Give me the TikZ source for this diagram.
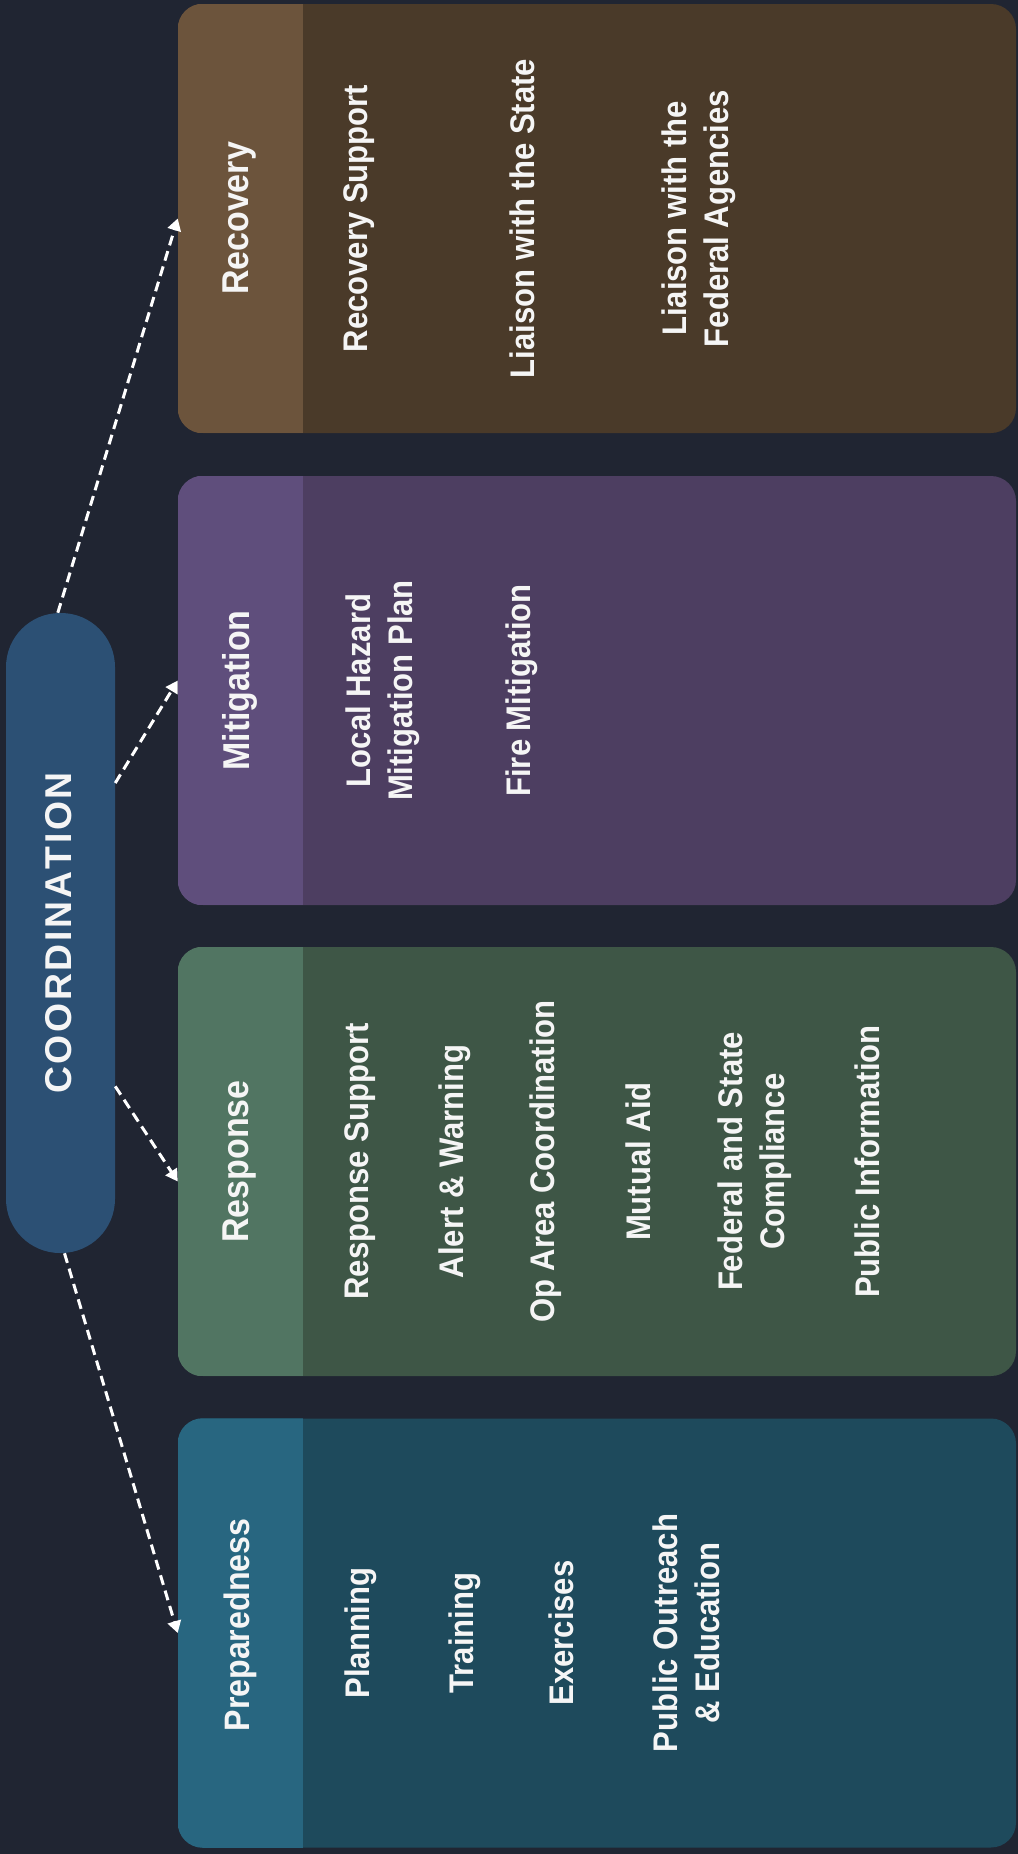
\documentclass[tikz,border=0pt]{standalone}
\usepackage{fontspec}
\setmainfont{Liberation Sans}
\newfontfamily\narrowfont[FakeStretch=0.91]{Liberation Sans}
\usetikzlibrary{arrows.meta}
\definecolor{bgc}{RGB}{32,37,50}
\definecolor{pillc}{RGB}{44,80,116}
\definecolor{rechead}{RGB}{108,84,60}
\definecolor{recbody}{RGB}{74,58,41}
\definecolor{mithead}{RGB}{95,78,124}
\definecolor{mitbody}{RGB}{77,62,97}
\definecolor{resphead}{RGB}{81,117,98}
\definecolor{respbody}{RGB}{62,86,70}
\definecolor{prephead}{RGB}{40,102,128}
\definecolor{prepbody}{RGB}{30,74,92}
\definecolor{txt}{RGB}{245,245,245}
\begin{document}
\begin{tikzpicture}[x=0.75pt,y=-0.75pt,
  panel/.style={rectangle, rounded corners=18.75pt, minimum width=628.5pt, minimum height=321.75pt, inner sep=0pt, draw=none},
  pill/.style={rectangle, rounded corners=40.5pt, minimum width=81.75pt, minimum height=480pt, inner sep=0pt, fill=pillc, draw=none},
  headtxt/.style={rotate=90, text=txt, font=\narrowfont\bfseries\fontsize{28}{30}\selectfont, inner sep=0pt},
  itemtxt/.style={rotate=90, text=txt, align=center, font=\narrowfont\bfseries\fontsize{25.6}{31.5}\selectfont, inner sep=0pt},
  cotxt/.style={rotate=90, text=txt, font=\bfseries\fontsize{28}{30}\selectfont, inner sep=0pt},
  conn/.style={draw=white, line width=2.25pt, dash pattern=on 7.5pt off 4.5pt, -{Triangle[length=9pt,width=10pt]}}
]
\useasboundingbox (0,0) rectangle (1018,1854);
\fill[bgc] (0,0) rectangle (1018,1854);

% panels
\node[panel, fill=recbody] (rec) at (597,218.5) {};
\node[panel, fill=mitbody] (mit) at (597,690.5) {};
\node[panel, fill=respbody] (resp) at (597,1161.5) {};
\node[panel, fill=prepbody] (prep) at (597,1633) {};

\foreach \p/\c in {rec/rechead, mit/mithead, resp/resphead, prep/prephead}{
  \begin{scope}
    \clip[rounded corners=18.75pt] (\p.north west) rectangle (\p.south east);
    \fill[\c] (\p.north west) rectangle ([xshift=93.75pt]\p.south west);
  \end{scope}
}

% headers
\node[headtxt] (rech) at (240,218.5) {Recovery};
\node[headtxt] (mith) at (240,690.5) {Mitigation};
\node[headtxt] (resph) at (240,1161.5) {Response};
\node[headtxt, font=\narrowfont\bfseries\fontsize{26.5}{30}\selectfont] (preph) at (240,1625) {Preparedness};

% recovery items
\node[itemtxt] (r1) at (359,218.5) {Recovery Support};
\node[itemtxt] (r2) at (522,218.5) {Liaison with the State};
\node[itemtxt] (r3) at (699,218.5) {Liaison with the\\Federal Agencies};

% mitigation items
\node[itemtxt] (m1) at (383,690.5) {Local Hazard\\Mitigation Plan};
\node[itemtxt] (m2) at (522,690.5) {Fire Mitigation};

% response items
\node[itemtxt] (s1) at (360,1161.5) {Response Support};
\node[itemtxt] (s2) at (455,1161.5) {Alert \& Warning};
\node[itemtxt] (s3) at (546,1161.5) {Op Area Coordination};
\node[itemtxt] (s4) at (638,1161.5) {Mutual Aid};
\node[itemtxt] (s5) at (755,1161.5) {Federal and State\\Compliance};
\node[itemtxt] (s6) at (867,1161.5) {Public Information};

% preparedness items
\node[itemtxt] (p1) at (361,1633) {Planning};
\node[itemtxt] (p2) at (465,1633) {Training};
\node[itemtxt] (p3) at (561,1633) {Exercises};
\node[itemtxt] (p4) at (686,1633) {Public Outreach\\\& Education};

% coordination pill
\node[pill] (coord) at (60.5,933) {};
\node[cotxt] (coordt) at (59,933) {C\kern2pt O\kern2pt O\kern2pt R\kern2pt D\kern2pt I\kern2pt N\kern2pt A\kern2pt T\kern2pt I\kern2pt O\kern2pt N};

% connectors
\draw[conn] ([xshift=-2pt]coord.north) -- (rec.west);
\draw[conn] ([yshift=112.5pt]coord.east) -- ([yshift=7.5pt]mit.west);
\draw[conn] ([yshift=-115pt]coord.east) -- ([yshift=-15pt]resp.west);
\draw[conn] ([xshift=3pt]coord.south) -- (prep.west);
\end{tikzpicture}
\end{document}
